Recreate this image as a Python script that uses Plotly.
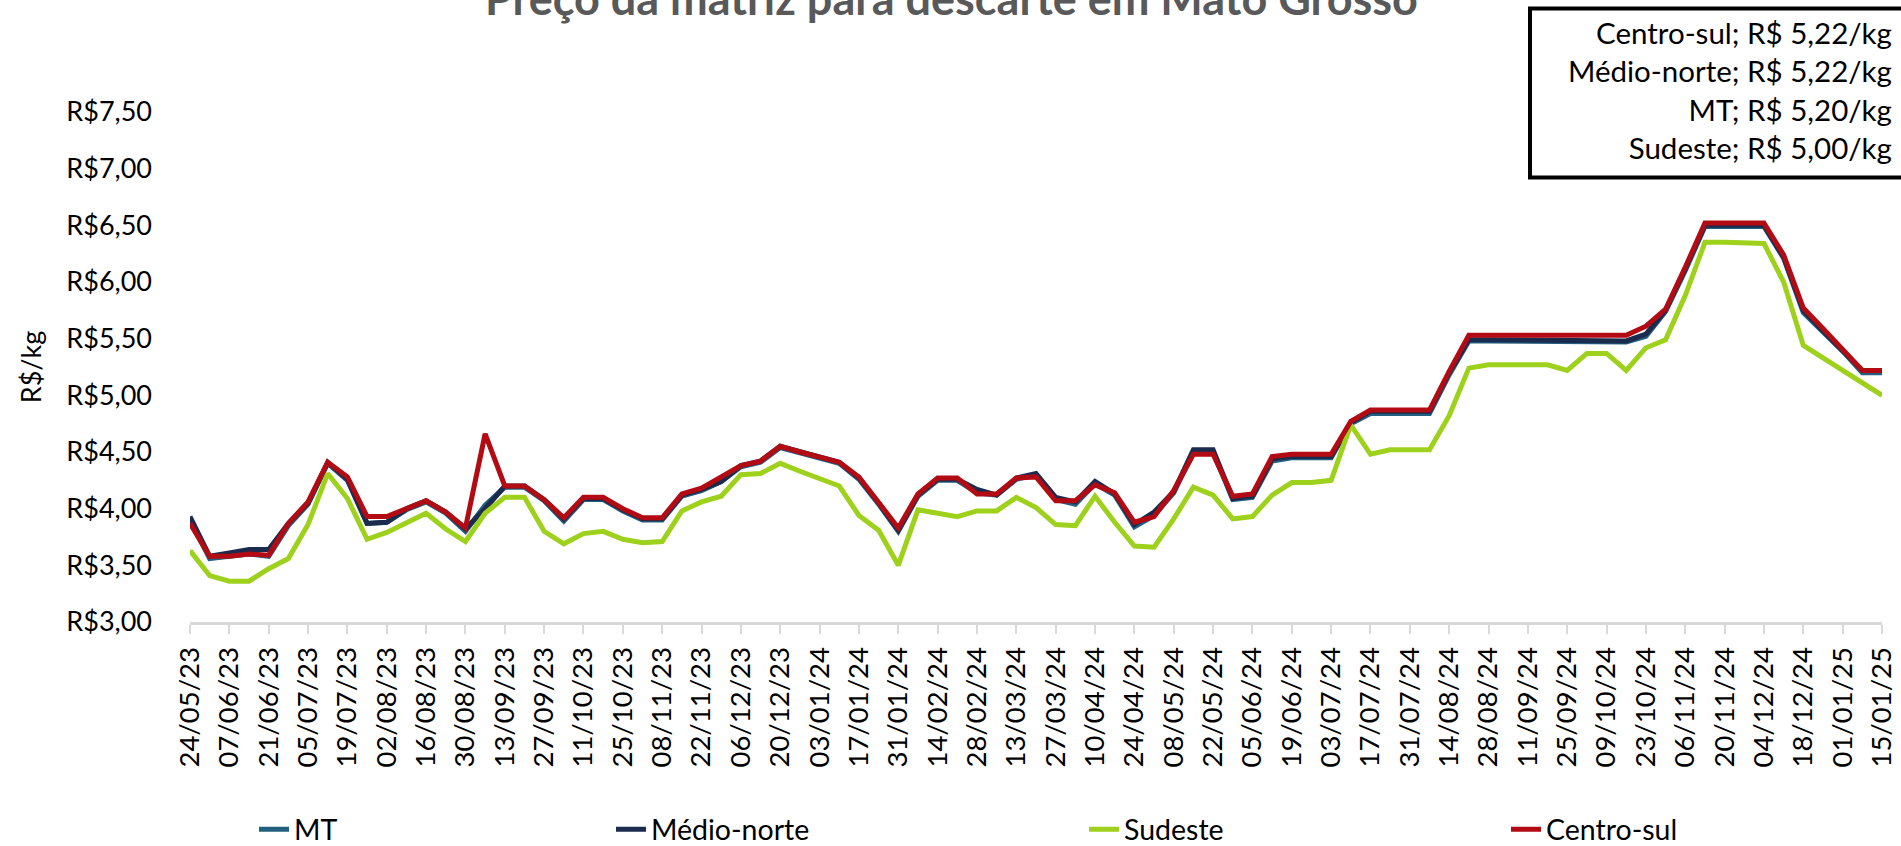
import pandas as pd
import plotly.graph_objects as go

# ---- data -------------------------------------------------------------
dates = pd.date_range("2023-05-24", "2025-01-15", freq="7D")
categories = [d.strftime("%d/%m/%y") for d in dates]

mt = [3.90, 3.56, 3.58, 3.60, 3.58, 3.85, 4.04, 4.40, 4.25, 3.87,
      3.88, 3.99, 4.06, 3.96, 3.80, 4.03, 4.19, 4.19, 4.07, 3.89,
      4.08, 4.08, 3.98, 3.90, 3.90, 4.11, 4.16, 4.24, 4.37, 4.41,
      4.54, 4.49, 4.45, 4.40, 4.26, 4.04, 3.80, 4.11, 4.25, 4.25,
      4.14, 4.12, 4.26, 4.30, 4.08, 4.04, 4.22, 4.12, 3.84, 3.94,
      4.14, 4.50, 4.50, 4.08, 4.10, 4.42, 4.45, 4.45, 4.45, 4.75,
      4.84, 4.84, 4.84, 4.84, 5.18, 5.48, 5.48, 5.48, 5.48, 5.48,
      5.48, 5.48, 5.48, 5.47, 5.52, 5.74, 6.10, 6.49, 6.49, 6.49,
      6.49, 6.21, 5.73, 5.56, 5.39, 5.20, 5.20]

medio_norte = [3.93, 3.58, 3.61, 3.64, 3.64, 3.87, 4.05, 4.41, 4.26, 3.87,
               3.88, 4.00, 4.07, 3.97, 3.82, 4.00, 4.20, 4.20, 4.08, 3.91,
               4.09, 4.09, 3.99, 3.91, 3.91, 4.12, 4.17, 4.24, 4.38, 4.42,
               4.55, 4.50, 4.46, 4.41, 4.27, 4.05, 3.81, 4.12, 4.26, 4.26,
               4.17, 4.12, 4.27, 4.31, 4.10, 4.06, 4.24, 4.13, 3.86, 3.97,
               4.15, 4.52, 4.52, 4.09, 4.11, 4.44, 4.46, 4.46, 4.46, 4.76,
               4.86, 4.86, 4.86, 4.86, 5.20, 5.49, 5.49, 5.49, 5.49, 5.49,
               5.49, 5.49, 5.49, 5.48, 5.54, 5.75, 6.12, 6.50, 6.50, 6.50,
               6.50, 6.22, 5.75, 5.57, 5.40, 5.22, 5.22]

sudeste = [3.63, 3.41, 3.36, 3.36, 3.47, 3.56, 3.86, 4.31, 4.09, 3.73,
           3.79, 3.88, 3.96, 3.82, 3.71, 3.96, 4.10, 4.10, 3.80, 3.69,
           3.78, 3.80, 3.73, 3.70, 3.71, 3.98, 4.06, 4.11, 4.30, 4.31,
           4.40, 4.33, 4.27, 4.20, 3.94, 3.81, 3.50, 3.99, 3.96, 3.93,
           3.98, 3.98, 4.10, 4.01, 3.86, 3.85, 4.11, 3.88, 3.67, 3.66,
           3.91, 4.19, 4.12, 3.91, 3.93, 4.12, 4.23, 4.23, 4.25, 4.74,
           4.48, 4.52, 4.52, 4.52, 4.82, 5.24, 5.27, 5.27, 5.27, 5.27,
           5.22, 5.37, 5.37, 5.22, 5.42, 5.49, 5.88, 6.35, 6.35, 6.35,
           6.34, 6.00, 5.44, 5.33, 5.22, 5.12, 5.00]

centro_sul = [3.87, 3.58, 3.58, 3.60, 3.59, 3.87, 4.06, 4.41, 4.28, 3.93,
              3.93, 4.00, 4.07, 3.97, 3.83, 4.66, 4.20, 4.20, 4.08, 3.92,
              4.10, 4.10, 4.00, 3.92, 3.92, 4.13, 4.18, 4.28, 4.38, 4.42,
              4.55, 4.50, 4.46, 4.41, 4.28, 4.06, 3.83, 4.13, 4.27, 4.27,
              4.13, 4.13, 4.27, 4.28, 4.07, 4.07, 4.21, 4.14, 3.88, 3.93,
              4.16, 4.48, 4.48, 4.11, 4.13, 4.46, 4.48, 4.48, 4.48, 4.77,
              4.87, 4.87, 4.87, 4.87, 5.21, 5.53, 5.53, 5.53, 5.53, 5.53,
              5.53, 5.53, 5.53, 5.53, 5.61, 5.76, 6.13, 6.52, 6.52, 6.52,
              6.52, 6.24, 5.77, 5.59, 5.41, 5.22, 5.22]

y_tick_vals = [3.0, 3.5, 4.0, 4.5, 5.0, 5.5, 6.0, 6.5, 7.0, 7.5]
y_tick_text = ["R$3,00", "R$3,50", "R$4,00", "R$4,50", "R$5,00",
               "R$5,50", "R$6,00", "R$6,50", "R$7,00", "R$7,50"]
x_tick_vals = categories[::2]

box_lines = ["Centro-sul; R$ 5,22/kg", "Médio-norte; R$ 5,22/kg",
             "MT; R$ 5,20/kg", "Sudeste; R$ 5,00/kg"]
title_text = "Preço da matriz para descarte em Mato Grosso"

# ---- layout geometry (pixels) -----------------------------------------
W, H = 1901, 846
L, R, T, B = 190, 19, 111.5, 224
PW, PH = W - L - R, H - T - B


def px(x):
    return (x - L) / PW


def py(y):
    return (H - B - y) / PH


FONT = "Lato"

series = [
    ("MT", mt, "#23607F", "legend"),
    ("Médio-norte", medio_norte, "#1B2B4D", "legend2"),
    ("Sudeste", sudeste, "#9ED11B", "legend3"),
    ("Centro-sul", centro_sul, "#B20B13", "legend4"),
]

fig = go.Figure()
for name, vals, color, lg in series:
    fig.add_trace(go.Scatter(
        x=categories, y=vals, mode="lines", name=name,
        line=dict(color=color, width=5), legend=lg,
    ))

legend_common = dict(orientation="h", yanchor="middle", xanchor="left",
                     font=dict(family=FONT, size=28.5, color="#000000"),
                     bgcolor="rgba(0,0,0,0)")
leg_x = {"legend": 254, "legend2": 611, "legend3": 1084, "legend4": 1506}
legend_layout = {}
for k, v in leg_x.items():
    legend_layout[k] = dict(legend_common, x=px(v), y=py(830))

fig.update_layout(
    width=W, height=H,
    margin=dict(l=L, r=R, t=T, b=B, autoexpand=False),
    paper_bgcolor="white", plot_bgcolor="white",
    font=dict(family=FONT, color="#000000"),
    showlegend=True,
    **legend_layout,
    xaxis=dict(
        type="category", range=[0, len(categories) - 1], automargin=False,
        tickmode="array", tickvals=x_tick_vals, ticktext=x_tick_vals,
        tickangle=-90, tickfont=dict(family=FONT, size=27.5, color="#000000"),
        showline=True, linecolor="#D9D9D9", linewidth=3,
        ticks="outside", ticklen=9, tickwidth=2, tickcolor="#D9D9D9",
        showgrid=False, zeroline=False, ticklabelstandoff=2,
    ),
    yaxis=dict(
        range=[3, 7.5], automargin=False, tickmode="array", tickvals=y_tick_vals,
        ticktext=y_tick_text, tickfont=dict(family=FONT, size=27, color="#000000"),
        showline=False, showgrid=False, zeroline=False, ticks="",
        ticklabelstandoff=37,
        title=dict(text="R$/kg", font=dict(family=FONT, size=27, color="#000000"),
                   standoff=16),
    ),
)

fig.add_annotation(
    text="<b>" + title_text + "</b>", xref="paper", yref="paper",
    x=px(951), y=py(-3), xanchor="center", yanchor="middle", showarrow=False,
    font=dict(family=FONT, size=45, color="#595959"),
)

fig.add_shape(type="rect", xref="paper", yref="paper",
              x0=px(1530), x1=px(1915), y0=py(177), y1=py(8),
              line=dict(color="#000000", width=4), fillcolor="rgba(0,0,0,0)")

fig.add_annotation(
    text="<br>".join(box_lines), xref="paper", yref="paper",
    x=px(1894), y=py(12), xanchor="right", yanchor="top", align="right",
    showarrow=False, font=dict(family=FONT, size=29.5, color="#000000"),
)

fig.write_html(
    "out.html",
    config={"displayModeBar": False},
    post_script="document.body.style.margin='0';document.body.style.overflow='hidden';",
)
